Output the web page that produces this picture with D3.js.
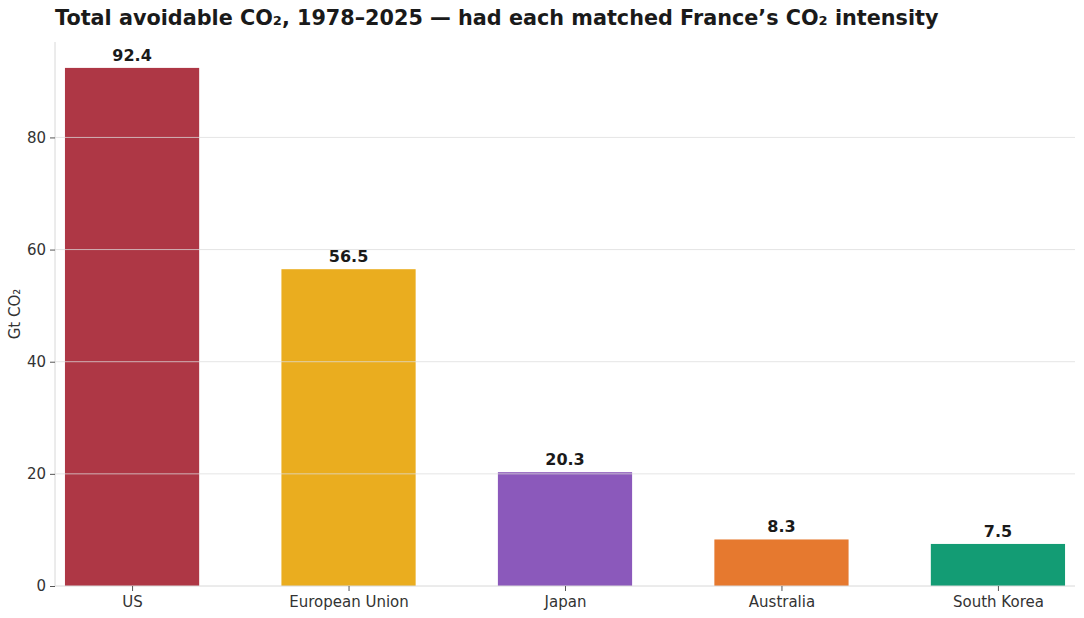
<!DOCTYPE html>
<html><head><meta charset="utf-8">
<script src="https://cdn.jsdelivr.net/npm/d3@7"></script>
<style>body{margin:0;background:#fff}svg{display:block}text{font-family:"DejaVu Sans",sans-serif}</style>
</head><body>
<svg id="c" width="1084" height="618"></svg>
<script>
const categories = ["US","European Union","Japan","Australia","South Korea"];
const values = [92.4, 56.5, 20.3, 8.3, 7.5];
const colors = ["#ae3745","#eaad1f","#8b59bb","#e6792f","#139c74"];
const yTicks = [0,20,40,60,80];
const titleText = "Total avoidable CO\u2082, 1978\u20132025 \u2014 had each matched France\u2019s CO\u2082 intensity";
const yLabel = "Gt CO\u2082";

const svg = d3.select("#c");
const L=55, R=1075, T=42, B=586;
const x = d3.scalePoint().domain(categories).range([L,R]).padding(0.356);
const y = d3.scaleLinear().domain([0, d3.max(values)*1.05]).range([B,T]);
const bw = x.step()*0.62;

svg.selectAll("rect.bar").data(values).join("rect")
  .attr("x",(d,i)=>x(categories[i])-bw/2).attr("width",bw)
  .attr("y",d=>y(d)).attr("height",d=>B-y(d))
  .attr("fill",(d,i)=>colors[i]);

svg.append("g").selectAll("line").data(yTicks.filter(t=>t>0)).join("line")
  .attr("x1",L).attr("x2",R).attr("y1",d=>y(d)).attr("y2",d=>y(d))
  .attr("stroke","#dcdcdc").attr("stroke-opacity",0.75).attr("stroke-width",1);

const ya = svg.append("g").attr("transform",`translate(${L},0)`)
  .call(d3.axisLeft(y).tickValues(yTicks).tickSize(5).tickPadding(4).tickFormat(d3.format("d")));
ya.select(".domain").attr("stroke","#d8d8d8").attr("d",`M0,${B}V${T}`);
ya.selectAll(".tick line").attr("stroke","#555");
ya.selectAll(".tick text").attr("font-size",15).attr("fill","#333").attr("font-family","DejaVu Sans");

const xa = svg.append("g").attr("transform",`translate(0,${B})`)
  .call(d3.axisBottom(x).tickSize(5).tickPadding(5));
xa.select(".domain").attr("stroke","#d8d8d8").attr("d",`M${L},0H${R}`);
xa.selectAll(".tick line").attr("stroke","#555");
xa.selectAll(".tick text").attr("font-size",15).attr("fill","#333").attr("font-family","DejaVu Sans");

svg.selectAll("text.val").data(values).join("text").attr("class","val")
  .attr("x",(d,i)=>x(categories[i])).attr("y",d=>y(d)-7)
  .attr("text-anchor","middle").attr("font-size",16).attr("font-weight","bold").attr("fill","#1a1a1a")
  .text(d=>d.toFixed(1));

svg.append("text").attr("x",L).attr("y",25).attr("font-size",20.75).attr("font-weight","bold").attr("fill","#1a1a1a").text(titleText);
svg.append("text").attr("transform",`translate(20,${(T+B)/2}) rotate(-90)`).attr("text-anchor","middle")
  .attr("font-size",15).attr("fill","#333").text(yLabel);
</script>
</body></html>
